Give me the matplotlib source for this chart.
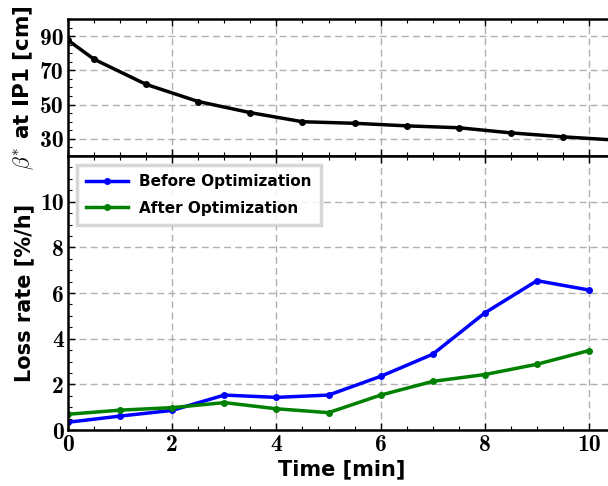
import os
import matplotlib
matplotlib.use("Agg")
import matplotlib.pyplot as plt
from matplotlib.font_manager import FontProperties
from matplotlib.ticker import MultipleLocator

# beta* at IP1 during the squeeze
beta_time = [0.0, 0.5, 1.5, 2.5, 3.5, 4.5, 5.5, 6.5, 7.5, 8.5, 9.5, 10.5]
beta_star = [87.6, 76.5, 61.8, 51.8, 45.3, 40.0, 39.1, 37.6, 36.5, 33.5, 31.2, 29.3]

# Loss rate measurements
time_min = [0, 1, 2, 3, 4, 5, 6, 7, 8, 9, 10]
loss_before = [0.34, 0.61, 0.86, 1.53, 1.43, 1.53, 2.35, 3.32, 5.13, 6.54, 6.13]
loss_after = [0.69, 0.87, 0.98, 1.20, 0.93, 0.76, 1.53, 2.13, 2.43, 2.88, 3.48]

label_before = "Before Optimization"
label_after = "After Optimization"

cm_bold = FontProperties(fname=os.path.join(matplotlib.get_data_path(), "fonts", "ttf", "cmb10.ttf"), size=17)
plt.rcParams["mathtext.fontset"] = "cm"

fig = plt.figure(figsize=(6.08, 4.86), dpi=100)
ax_top = fig.add_axes([0.1118, 0.679, 0.90, 0.282])
ax_bot = fig.add_axes([0.1118, 0.1152, 0.90, 0.5638])

for ax in (ax_top, ax_bot):
    ax.set_xlim(0, 10.5)
    ax.xaxis.set_major_locator(MultipleLocator(2))
    ax.xaxis.set_minor_locator(MultipleLocator(0.5))
    ax.grid(True, which="major", linestyle=(0, (5, 3)), color="#b0b0b0", linewidth=1.0)
    ax.tick_params(which="both", direction="in", top=True, right=True)
    ax.tick_params(which="major", length=5, width=1.0, pad=3)
    ax.tick_params(which="minor", length=3, width=0.8)
    for sp in ax.spines.values():
        sp.set_linewidth(1.8)
    ax.set_axisbelow(True)

ax_top.plot(beta_time, beta_star, color="black", lw=2.5, marker="o", ms=4)
ax_top.set_ylim(20, 100)
ax_top.set_yticks([30, 50, 70, 90])
ax_top.yaxis.set_minor_locator(MultipleLocator(5))
ax_top.tick_params(labelbottom=False)
ax_top.set_ylabel(r"$\beta^{*}$ at IP1 [cm]", fontsize=15.5, fontweight="bold", labelpad=3)

ax_bot.plot(time_min, loss_before, color="blue", lw=2.5, marker="o", ms=4, label=label_before)
ax_bot.plot(time_min, loss_after, color="green", lw=2.5, marker="o", ms=4, label=label_after)
ax_bot.set_ylim(0, 12)
ax_bot.set_yticks([0, 2, 4, 6, 8, 10])
ax_bot.yaxis.set_minor_locator(MultipleLocator(0.5))
ax_bot.set_ylabel("Loss rate [%/h]", fontsize=15, fontweight="bold", labelpad=4)
ax_bot.set_xlabel("Time [min]", fontsize=15, fontweight="bold", labelpad=2)

for ax in (ax_top, ax_bot):
    for lab in ax.get_xticklabels() + ax.get_yticklabels():
        lab.set_fontproperties(cm_bold)

leg = ax_bot.legend(loc="upper left", prop={"weight": "bold", "size": 11},
                    fancybox=False, framealpha=0.85, edgecolor="#d0d0d0",
                    borderpad=0.6, labelspacing=0.75, handlelength=2.75,
                    handletextpad=0.7, borderaxespad=0.6)
leg.get_frame().set_linewidth(2.5)

fig.savefig("out.png", dpi=100)
